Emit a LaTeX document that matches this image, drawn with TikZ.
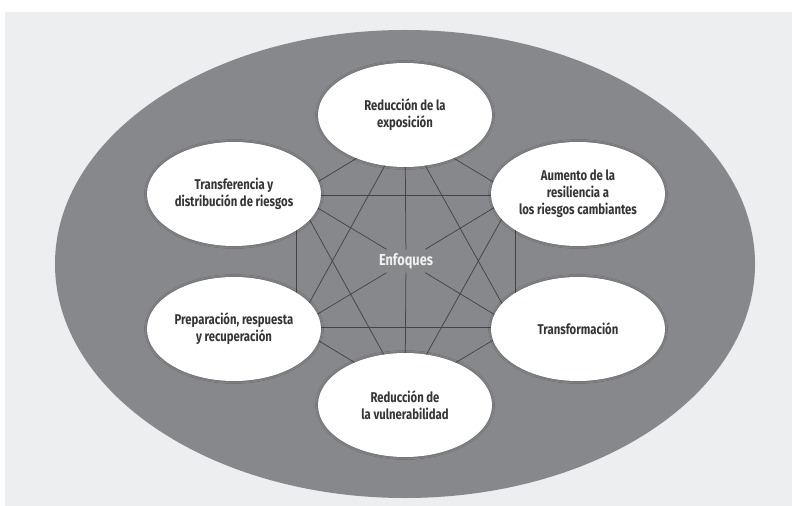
\documentclass[tikz,border=0pt]{standalone}
\usepackage{fontspec}
\setmainfont{Fira Sans}[FakeStretch=0.8]
\usetikzlibrary{shapes.geometric, positioning, shadows.blur}
\definecolor{panelgray}{HTML}{EDEEF0}
\definecolor{ringgray}{HTML}{87888B}
\definecolor{linkgray}{HTML}{434447}
\definecolor{labelgray}{HTML}{353535}
\definecolor{hubwhite}{HTML}{F0F0F0}

\begin{document}
\begin{tikzpicture}[x=1bp, y=-1bp,
    approach/.style={ellipse, fill=white, minimum width=174bp, minimum height=104bp,
      inner sep=0pt, align=center, text=labelgray,
      blur shadow={shadow xshift=0bp, shadow yshift=0bp, shadow blur radius=2.5bp,
        shadow opacity=35},
      font=\fontsize{14.2}{17.2}\selectfont\bfseries},
    hub/.style={text=hubwhite, inner xsep=2bp, inner ysep=0pt, minimum height=23bp,
      font=\fontsize{16}{16}\selectfont\bfseries},
    link/.style={linkgray, line width=0.75bp}]
  \useasboundingbox (0,0) rectangle (792,506);
  \fill[white] (0,0) rectangle (792,506);
  \fill[panelgray] (5,12) rectangle (792,506);
  \fill[ringgray] (405,264) ellipse [x radius=350bp, y radius=234bp];

  % corners of the hexagon the links run between
  \coordinate (v-expo) at (405,129);
  \coordinate (v-resil) at (515,195);
  \coordinate (v-transf) at (515,327);
  \coordinate (v-vuln) at (405,393);
  \coordinate (v-prep) at (296,327);
  \coordinate (v-transfer) at (296,195);

  \node[hub] (enf) at (406,261) {Enfoques};

  \foreach \a/\b in {expo/resil, expo/transf, expo/prep, expo/transfer,
      resil/transf, resil/vuln, resil/transfer, transf/vuln, transf/prep,
      vuln/prep, vuln/transfer, prep/transfer}
    \draw[link] (v-\a) -- (v-\b);
  % the three diagonals stop at the centre label
  \foreach \a in {expo, resil, transf, vuln, prep, transfer}
    \draw[link] (v-\a) -- (enf);

  \node[approach] (expo) at (405,115) {Reducción de la\\exposición};
  \node[approach] (resil) at (578,194) {Aumento de la\\resiliencia a\\los riesgos cambiantes};
  \node[approach] (transf) at (578,329) {Transformación};
  \node[approach] (vuln) at (405,405) {Reducción de\\la vulnerabilidad};
  \node[approach] (prep) at (234,329) {Preparación, respuesta\\y recuperación};
  \node[approach] (transfer) at (234,194) {Transferencia y\\distribución de riesgos};
\end{tikzpicture}
\end{document}
